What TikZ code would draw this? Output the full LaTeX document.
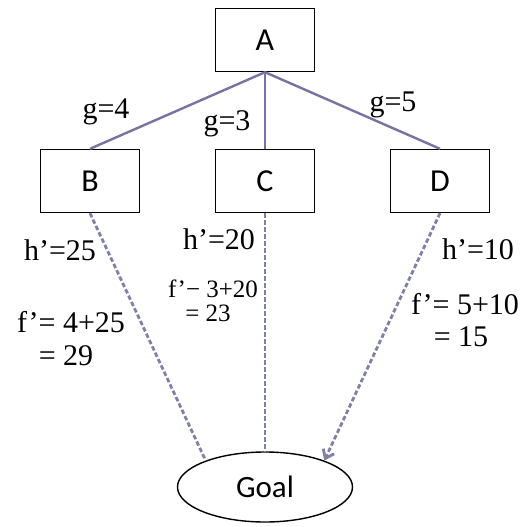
\documentclass[tikz,border=0pt]{standalone}
\usepackage{fontspec}
\setmainfont{Liberation Serif}
\newfontfamily\boxfont{Carlito}
\usetikzlibrary{arrows.meta,shapes.geometric}
\definecolor{edgecol}{RGB}{122,114,160}
\definecolor{dashcol}{RGB}{128,128,165}

\begin{document}
\begin{tikzpicture}[x=1pt,y=-1pt,
    box/.style={draw,line width=1.4pt,minimum width=99pt,minimum height=63pt,inner sep=0pt,font=\boxfont\fontsize{32}{36}\selectfont},
    goalbox/.style={draw,ellipse,line width=1.4pt,minimum width=175pt,minimum height=70pt,inner sep=0pt,font=\boxfont\fontsize{31}{34}\selectfont},
    lbl/.style={inner sep=0pt,font=\fontsize{30}{32}\selectfont},
    lblsmall/.style={inner sep=0pt,font=\fontsize{25}{28}\selectfont},
    tree/.style={draw=edgecol,line width=2.4pt},
    estline/.style={draw=dashcol,line width=2.8pt,dash pattern=on 4.5pt off 2.5pt}]
    \useasboundingbox (0,0) rectangle (525,527);
    % nodos
    \node[box] (A) at (265,40) {A};
    \node[box] (B) at (90,181) {B};
    \node[box] (C) at (265,181) {C};
    \node[box] (D) at (440,181) {D};
    \node[goalbox] (goal) at (265,487) {Goal};
    % aristas con coste g
    \draw[tree] (A.south) -- (B.north);
    \draw[tree] (A.south) -- (C.north);
    \draw[tree] (A.south) -- (D.north);
    \node[lbl] (g4) at (106,112) {g=4};
    \node[lbl] (g3) at (227,124) {g=3};
    \node[lbl] (g5) at (393,105) {g=5};
    % caminos estimados hasta Goal
    \draw[estline] (B.south) -- (goal.156);
    \draw[estline] (C.south) -- (goal.north);
    \draw[estline,-{Straight Barb[length=8pt,width=12pt]}] (D.south) -- (goal.24);
    % heuristicas
    \node[lbl] (hB) at (60,250) {h’=25};
    \node[lbl] (fB) at (71,322) {f’= 4+25};
    \node[lbl] (fB2) at (66,356) {= 29};
    \node[lbl] (hC) at (219,239) {h’=20};
    \node[lblsmall] (fC) at (213,289) {f’− 3+20};
    \node[lblsmall] (fC2) at (208,313) {= 23};
    \node[lbl] (hD) at (478,249) {h’=10};
    \node[lbl] (fD) at (465,304) {f’= 5+10};
    \node[lbl] (fD2) at (461,337) {= 15};
\end{tikzpicture}
\end{document}
